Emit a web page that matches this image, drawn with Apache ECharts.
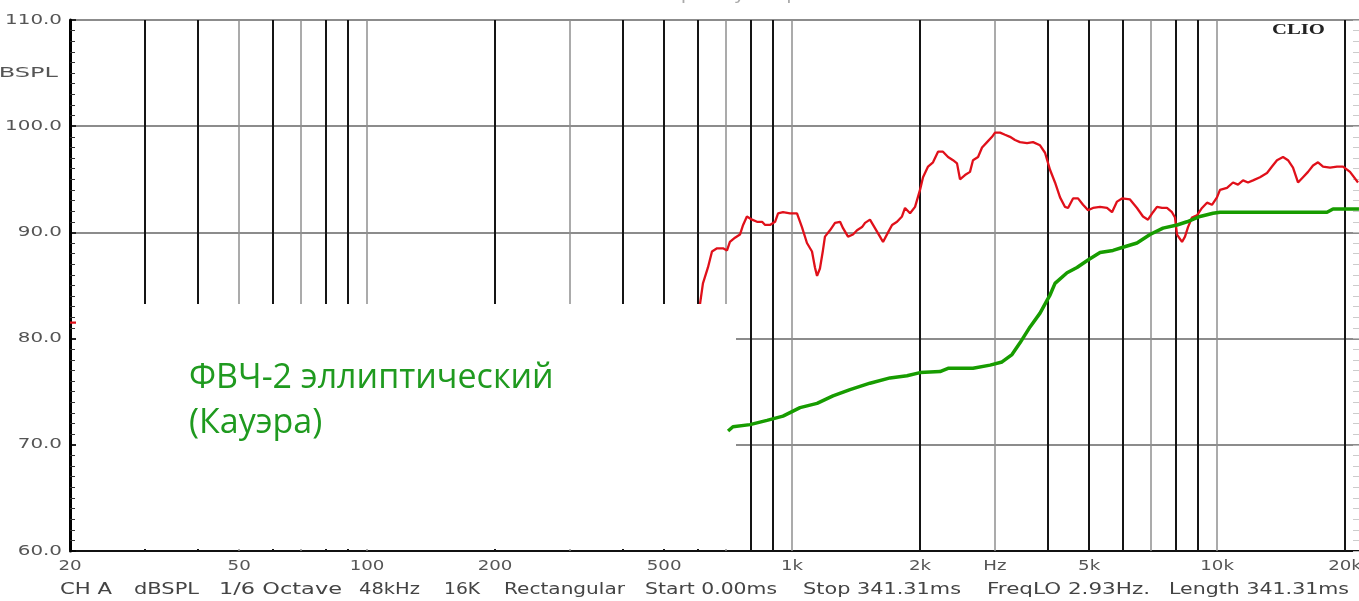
<!DOCTYPE html>
<html><head><meta charset="utf-8">
<script src="https://cdn.jsdelivr.net/npm/echarts@6/dist/echarts.min.js"></script>
<style>html,body{margin:0;padding:0;background:#fff}#c{width:1359px;height:601px}</style>
</head><body><div id="c"></div>
<script>
// ---------- data ----------
const redFreq = [20,600,607,617,634,648,666,688,703,714,734,754,767,783,805,827,850,864,887,912,927,952,989,1027,1055,1084,1114,1132,1145,1163,1182,1195,1228,1262,1297,1318,1354,1391,1422,1461,1485,1525,1567,1610,1637,1682,1719,1766,1814,1844,1895,1947,2000,2033,2089,2146,2205,2265,2328,2392,2444,2484,2552,2622,2665,2739,2799,2876,2955,3003,3086,3170,3257,3346,3438,3572,3689,3832,3937,4045,4156,4271,4388,4460,4582,4708,4837,4970,5106,5304,5508,5660,5815,5975,6239,6480,6694,6878,7067,7221,7420,7623,7832,7962,8049,8270,8405,8543,8730,8970,9216,9469,9728,9995,10159,10553,10901,11201,11509,11825,12150,12619,13106,13466,13836,14294,14686,15089,15504,15930,16368,16818,17280,17755,18440,19152,19784,20548,21460];
const redDb = [81.5,81.5,83.2,85.2,86.7,88.2,88.5,88.5,88.3,89.1,89.5,89.8,90.7,91.5,91.2,91.0,91.0,90.7,90.7,91.0,91.8,91.9,91.8,91.8,90.5,89.0,88.2,86.7,85.9,86.6,88.3,89.6,90.2,90.9,91.0,90.4,89.6,89.8,90.2,90.5,90.9,91.2,90.4,89.6,89.1,90.0,90.7,91.0,91.5,92.3,91.8,92.4,94.0,95.2,96.2,96.6,97.6,97.6,97.1,96.8,96.5,95.0,95.4,95.7,96.8,97.1,98.0,98.5,99.0,99.4,99.4,99.2,99.0,98.7,98.5,98.4,98.5,98.2,97.5,95.9,94.7,93.3,92.4,92.3,93.2,93.2,92.6,92.1,92.3,92.4,92.3,91.9,92.9,93.2,93.1,92.3,91.5,91.2,91.9,92.4,92.3,92.3,91.9,91.4,89.8,89.1,89.6,90.5,91.4,91.6,92.3,92.8,92.6,93.3,94.0,94.2,94.7,94.5,94.9,94.7,94.9,95.2,95.6,96.2,96.8,97.1,96.8,96.1,94.7,95.2,95.7,96.3,96.6,96.2,96.1,96.2,96.2,95.7,94.7];
const greenFreq = [707,726,796,873,952,1044,1145,1248,1369,1525,1700,1864,2000,2229,2328,2665,2923,3119,3292,3438,3630,3832,3980,4045,4156,4436,4682,4970,5304,5690,6007,6480,6954,7460,8049,8496,9118,9782,10159,18144,18742,21570];
const greenDb = [71.3,71.7,71.9,72.3,72.7,73.5,73.9,74.6,75.2,75.8,76.3,76.5,76.8,76.9,77.2,77.2,77.5,77.8,78.5,79.6,81.1,82.4,83.6,84.1,85.2,86.2,86.7,87.4,88.1,88.3,88.6,89.0,89.8,90.4,90.7,91.0,91.5,91.8,91.9,91.9,92.2,92.2];
const gridFreq = [30,40,50,60,70,80,90,100,200,300,400,500,600,700,800,900,1000,2000,3000,4000,5000,6000,7000,8000,9000,10000,20000];
const gridDark = [1,1,0,1,0,1,1,0,1,0,1,1,1,0,1,1,0,1,0,1,1,1,0,1,1,0,1];
const xTickValues = [20,50,100,200,500,1000,2000,3000,5000,10000,20000];
const xTickLabels = ['20','50','100','200','500','1k','2k','Hz','5k','10k','20k'];
const yTickValues = [60,70,80,90,100,110];
const yAxisName = 'dBSPL';
const titleText = 'MLS - Frequency Response';
const brandText = 'CLIO';
const infoTexts = ['CH A','dBSPL','1/6 Octave','48kHz','16K','Rectangular','Start 0.00ms','Stop 341.31ms','FreqLO 2.93Hz.','Length 341.31ms'];
const annotationLines = ['ФВЧ-2 эллиптический','(Кауэра)'];

// ---------- layout ----------
const infoX = [60,134,219,359,444,504,645,803,987,1169];
const infoW = [52,65,123,61,36,121,132,158,163,180];

const chart = echarts.init(document.getElementById('c'), null, {renderer:'canvas'});
const pair = (fs, ds) => fs.map((f, i) => [f, ds[i]]);

chart.setOption({
  animation: false,
  grid: {left: 70, right: 0, top: 20, bottom: 50},
  xAxis: {
    type: 'log', logBase: 10, min: 20, max: 21574,
    axisLine: {show: true, onZero: false, lineStyle: {color: '#111', width: 2}},
    axisTick: {show: false}, axisLabel: {show: false},
    splitLine: {show: false}, minorTick: {show: false}
  },
  yAxis: [{
    type: 'value', min: 60, max: 110, interval: 10,
    axisLine: {show: true, lineStyle: {color: '#000', width: 3}},
    axisTick: {show: true, inside: true, length: 6, lineStyle: {color: '#000', width: 1.5}},
    minorTick: {show: true, splitNumber: 10, length: 5, lineStyle: {color: '#333', width: 1}},
    axisLabel: {show: false},
    splitLine: {show: true, lineStyle: {color: '#8c8c8c', width: 2}}
  }, {
    type: 'value', position: 'right', min: 60, max: 110, interval: 10,
    axisLine: {show: false},
    axisTick: {show: true, inside: true, length: 6, lineStyle: {color: '#bbb'}},
    minorTick: {show: true, splitNumber: 10, length: 6, lineStyle: {color: '#ccc'}},
    axisLabel: {show: false}, splitLine: {show: false}
  }],
  series: [{
    type: 'line', name: 'grid', data: [[20, 60]], symbol: 'none', silent: true, z: 1,
    lineStyle: {opacity: 0},
    markLine: {
      silent: true, symbol: ['none', 'none'], label: {show: false}, z: 1, animation: false,
      data: gridFreq.map((f, i) => ({xAxis: f, lineStyle: {type: 'solid', color: gridDark[i] ? '#151515' : '#8f8f8f', width: gridDark[i] ? 2 : 1.5}}))
    }
  }, {
    type: 'line', name: 'red', data: pair(redFreq, redDb), symbol: 'none', silent: true, z: 6,
    lineStyle: {color: '#e0101a', width: 2.3}
  }, {
    type: 'line', name: 'green', data: pair(greenFreq, greenDb), symbol: 'none', silent: true, z: 8,
    lineStyle: {color: '#179c00', width: 3.5}
  }]
});

const px = v => chart.convertToPixel({xAxisIndex: 0}, v);
const py = v => chart.convertToPixel({yAxisIndex: 0}, v);
const ctx = document.createElement('canvas').getContext('2d');
const measure = (t, font) => { ctx.font = font; return ctx.measureText(t).width; };

function txt(t, x, y, opts) {
  return {
    type: 'text', x: x, y: y, scaleX: opts.scaleX || 1, z: opts.z || 10, silent: true,
    style: {
      text: t, x: 0, y: 0, font: opts.font, fill: opts.fill,
      align: opts.align || 'left', textAlign: opts.align || 'left',
      verticalAlign: opts.va || 'middle', textVerticalAlign: opts.va || 'middle'
    }
  };
}

const axisFont = '14px "DejaVu Sans"';
const elements = [];
// white overlay box
elements.push({type: 'rect', z: 7, silent: true, shape: {x: 76, y: 304, width: 660, height: 245}, style: {fill: '#fff'}});
// annotation
annotationLines.forEach((t, i) => elements.push(txt(t, 189, 378 + i * 45, {font: '34px "Open Sans"', fill: '#1f9a1f', z: 9})));
// y labels
yTickValues.forEach(v => elements.push(txt(v.toFixed(1), 62, py(v), {font: axisFont, fill: '#555', align: 'right', scaleX: 1.42, z: 10})));
elements.push(txt(yAxisName, 58, py(105), {font: axisFont, fill: '#555', align: 'right', scaleX: 1.72, z: 10}));
// x labels
xTickValues.forEach((v, i) => elements.push(txt(xTickLabels[i], px(v), 566, {font: axisFont, fill: '#555', align: 'center', scaleX: 1.3, z: 10})));
// info line
const infoFont = '15px "DejaVu Sans"';
infoTexts.forEach((t, i) => elements.push(txt(t, infoX[i], 590, {font: infoFont, fill: '#444', scaleX: infoW[i] / measure(t, infoFont), z: 10})));
// title (cropped at top)
elements.push(txt(titleText, 715, 4, {font: '15px "DejaVu Sans"', fill: '#aaa', align: 'center', va: 'bottom', scaleX: 1.3, z: 10}));
// brand
elements.push(txt(brandText, 1272, 30, {font: 'bold 15px "Liberation Serif"', fill: '#222', scaleX: 53 / measure(brandText, 'bold 15px "Liberation Serif"'), z: 10}));

chart.setOption({graphic: {elements: elements}});
</script>
</body></html>
